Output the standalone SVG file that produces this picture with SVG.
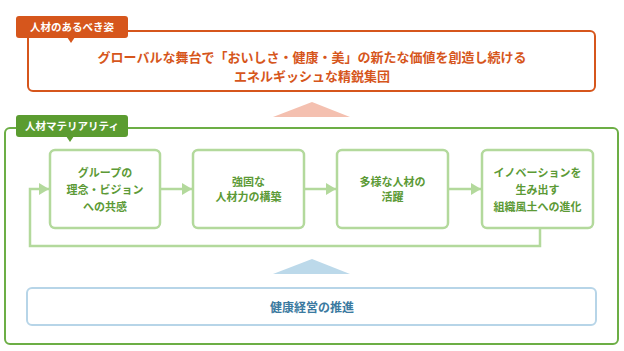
<svg xmlns="http://www.w3.org/2000/svg" width="624" height="351" viewBox="0 0 624 351">
<defs>
<style>
text{font-family:"Noto Sans CJK JP","Noto Sans",sans-serif;font-weight:bold;text-anchor:middle}
.tab{font-size:10.5px;fill:#fff}
.main{font-size:13px;fill:#d6561c}
.node rect{fill:#fff;stroke:#b3d99c;stroke-width:2.5}
.node text{font-size:11px;fill:#5c9a36}
.conn{fill:none;stroke:#b3d99c;stroke-width:2.5}
</style>
<marker id="ah" viewBox="0 0 10 12" refX="10" refY="6" markerUnits="userSpaceOnUse" markerWidth="10" markerHeight="12" orient="auto">
<path d="M0,0L10,6L0,12Z" fill="#b3d99c"/>
</marker>
</defs>
<rect width="624" height="351" fill="#fff"/>

<g id="vision">
<rect x="28" y="31" width="567" height="60" rx="5" fill="#fff" stroke="#d6561c" stroke-width="2"/>
<text class="main" x="312" y="61.5">グローバルな舞台で「おいしさ・健康・美」の新たな価値を創造し続ける</text>
<text class="main" x="312" y="80.5">エネルギッシュな精鋭集団</text>
</g>
<g id="vision-tab">
<rect x="16" y="16" width="112" height="22" rx="3" fill="#d6561c"/>
<path d="M67,37L75,37L71,43Z" fill="#d6561c"/>
<text class="tab" x="72" y="31">人材のあるべき姿</text>
</g>

<path id="pink-arrow" d="M312,102L350,117L273,117Z" fill="#f4c0b0"/>

<g id="materiality-frame">
<rect x="5" y="128" width="613" height="216" rx="5" fill="none" stroke="#6cae45" stroke-width="2"/>
</g>
<g id="materiality-tab">
<rect x="16" y="115" width="112" height="22" rx="3" fill="#5b9c30"/>
<path d="M66,136L74,136L70,142Z" fill="#5b9c30"/>
<text class="tab" x="72" y="130">人材マテリアリティ</text>
</g>

<g id="connectors">
<path class="conn" d="M160,189H192" marker-end="url(#ah)"/>
<path class="conn" d="M304,189H336" marker-end="url(#ah)"/>
<path class="conn" d="M448,189H481" marker-end="url(#ah)"/>
<path class="conn" d="M540,228V246H30V189H49" marker-end="url(#ah)"/>
</g>

<g id="node1" class="node">
<rect x="50" y="150" width="110" height="78" rx="5"/>
<text x="105" y="177">グループの</text>
<text x="105" y="194">理念・ビジョン</text>
<text x="105" y="211">への共感</text>
</g>
<g id="node2" class="node">
<rect x="193" y="150" width="111" height="78" rx="5"/>
<text x="248.5" y="186">強固な</text>
<text x="248.5" y="201">人材力の構築</text>
</g>
<g id="node3" class="node">
<rect x="337" y="150" width="111" height="78" rx="5"/>
<text x="392.5" y="186">多様な人材の</text>
<text x="392.5" y="201">活躍</text>
</g>
<g id="node4" class="node">
<rect x="482" y="150" width="111" height="78" rx="5"/>
<text x="537.5" y="177">イノベーションを</text>
<text x="537.5" y="194">生み出す</text>
<text x="537.5" y="211">組織風土への進化</text>
</g>

<path id="blue-arrow" d="M312,259L350,274L273,274Z" fill="#bcd9ea"/>

<g id="health">
<rect x="27" y="288" width="569" height="37" rx="5" fill="#fff" stroke="#b7d5e8" stroke-width="2"/>
<text x="312" y="311.5" style="font-size:12px;fill:#3b7aa0">健康経営の推進</text>
</g>
</svg>
